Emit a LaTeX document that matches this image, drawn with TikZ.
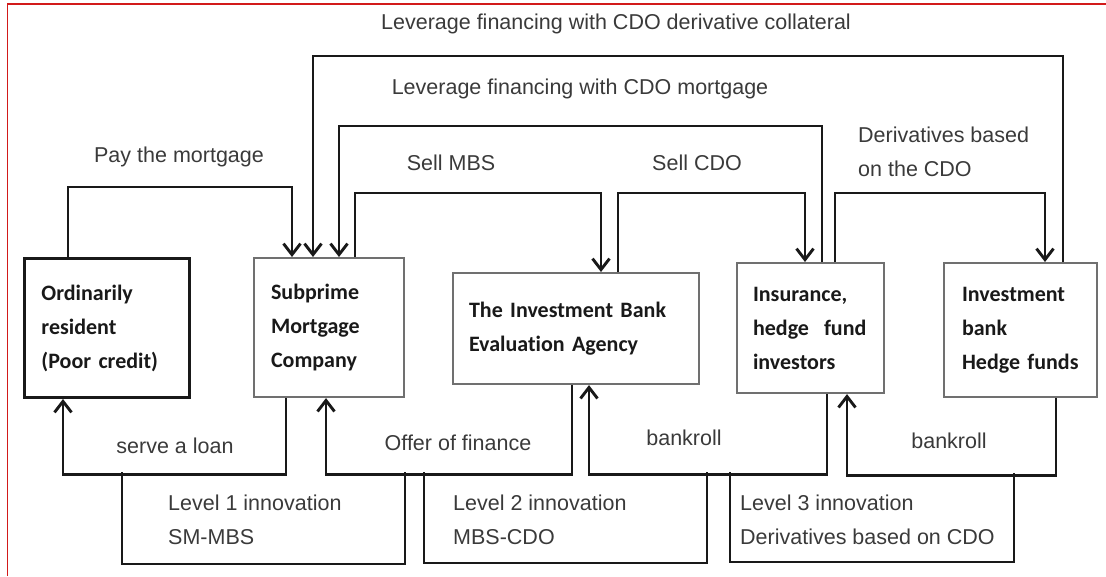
\documentclass[tikz,border=0pt]{standalone}
\usepackage{fontspec}
\setmainfont{Liberation Sans}
\newfontfamily\partyfont{Carlito}[Ligatures=NoCommon]
\usepackage{tikz}
\usetikzlibrary{arrows.meta}
\definecolor{labelgray}{HTML}{3A3A3A}
\definecolor{boxgray}{HTML}{707070}
\definecolor{framered}{HTML}{D21A1A}

\begin{document}
\begin{tikzpicture}[x=1pt, y=1pt,
    every node/.style={inner sep=0pt},
    party/.style={draw=boxgray, line width=2.1pt, anchor=north west, inner xsep=17pt, align=left,
      font=\partyfont\bfseries\fontsize{22pt}{34pt}\selectfont, text=black!90},
    flow/.style={line width=2.9pt, draw=black!90, -{Straight Barb[length=11pt,width=17pt]}},
    level/.style={line width=2.9pt, draw=black!90},
    tag/.style={text=labelgray, font=\fontsize{21.5pt}{34pt}\selectfont, align=left}]
\useasboundingbox (0,0) rectangle (1106,-576);
\draw[framered, line width=1.8pt] (7.5,-576) -- (7.5,-4) -- (1106,-4);

\node[party, draw=black!90, line width=3pt, text width=131pt, minimum height=139pt] (res) at (23,-257) {Ordinarily\\resident\\(Poor credit)};
\node[party, text width=116pt, minimum height=139pt] (sub) at (253,-257) {Subprime\\Mortgage\\Company};
\node[party, inner xsep=16pt, text width=214pt, minimum height=111pt] (agency) at (452,-272) {The Investment Bank\\Evaluation Agency};
\node[party, inner xsep=16pt, text width=115pt, minimum height=130pt] (ins) at (736,-262) {Insurance,\\hedge\hspace{15pt}fund\\investors};
\node[party, inner xsep=18pt, text width=117pt, minimum height=134pt] (ib) at (943,-262) {Investment\\bank\\Hedge funds};

\draw[flow] (res.north -| 68,0) -- ++(0,70) -| (sub.north -| 292,0);
\draw[flow] (ib.north -| 1063,0) -- ++(0,206) -| (sub.north -| 313,0);
\draw[flow] (ins.north -| 822,0) -- ++(0,136) -| (sub.north -| 339,0);
\draw[flow] (sub.north -| 355,0) -- ++(0,64) -| (agency.north -| 601,0);
\draw[flow] (agency.north -| 618,0) -- ++(0,79) -| (ins.north -| 805,0);
\draw[flow] (ins.north -| 835,0) -- ++(0,69) -| (ib.north -| 1045,0);

\draw[flow] (sub.south -| 286,0) -- ++(0,-76) -| (res.south -| 63,0);
\draw[flow] (agency.south -| 572,0) -- ++(0,-89) -| (sub.south -| 326,0);
\draw[flow] (ins.south -| 827,0) -- ++(0,-80) -| (agency.south -| 589,0);
\draw[flow] (ib.south -| 1056,0) -- ++(0,-77) -| (ins.south -| 847,0);

\draw[level] (122,-472) |- (405,-564) -- (405,-472);
\draw[level] (424,-472) |- (707,-563) -- (707,-472);
\draw[level] (730,-472) |- (1014,-562) -- (1014,-473);

\node[tag] (lblcollat) at (616,-24) {Leverage financing with CDO derivative collateral};
\node[tag] (lblmort) at (580,-89) {Leverage financing with CDO mortgage};
\node[tag] (lblpay) at (179,-157) {Pay the mortgage};
\node[tag] (lblmbs) at (451,-163) {Sell MBS};
\node[tag] (lblcdo) at (697,-163) {Sell CDO};
\node[tag, anchor=west] (lblderiv) at (858,-151.5) {Derivatives based\\on the CDO};
\node[tag] (lblloan) at (175,-446) {serve a loan};
\node[tag] (lbloffer) at (458,-443) {Offer of finance};
\node[tag] (lblbankA) at (684,-438) {bankroll};
\node[tag] (lblbankB) at (949,-441) {bankroll};
\node[tag, anchor=west] (lvlone) at (168,-519.5) {Level 1 innovation\\SM-MBS};
\node[tag, anchor=west] (lvltwo) at (453,-519.5) {Level 2 innovation\\MBS-CDO};
\node[tag, anchor=west] (lvlthree) at (740,-519.5) {Level 3 innovation\\Derivatives based on CDO};
\end{tikzpicture}
\end{document}
